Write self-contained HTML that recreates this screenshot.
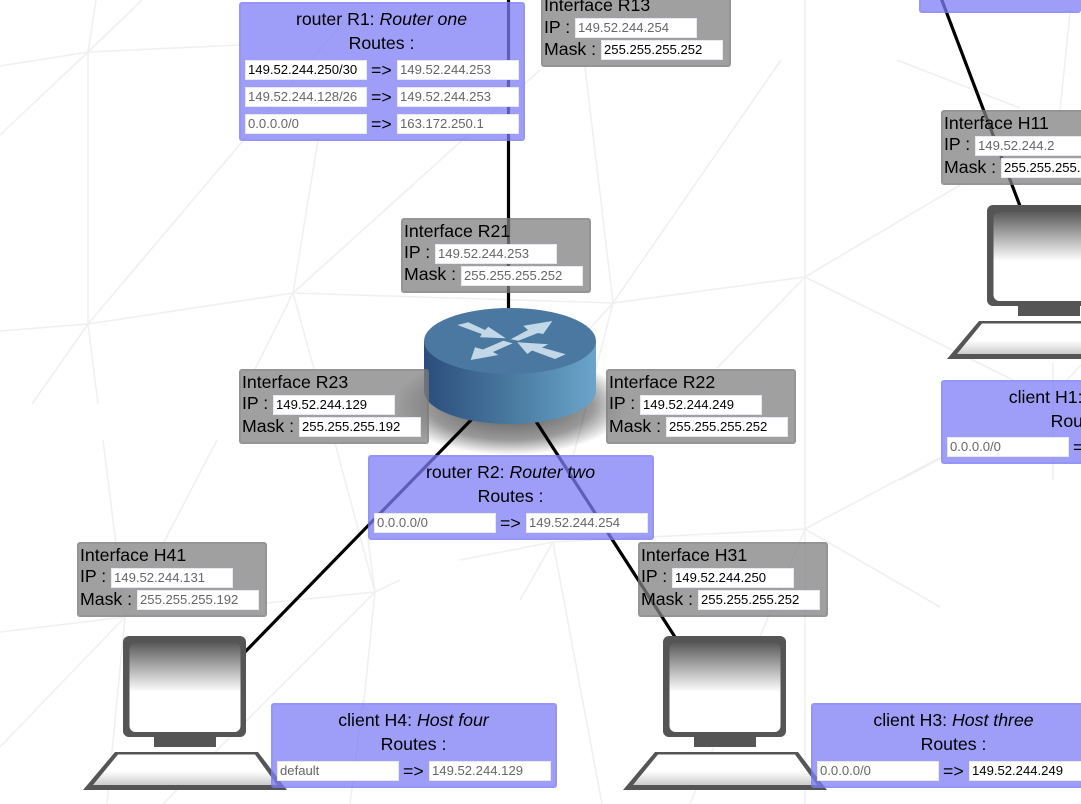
<!DOCTYPE html>
<html><head><meta charset="utf-8"><style>
html,body{margin:0;padding:0;width:1081px;height:804px;overflow:hidden;background:#fff}
body{font-family:"Liberation Sans",sans-serif;color:#000}
#w{position:relative;width:1081px;height:804px;overflow:hidden}
svg{position:absolute;left:0;top:0}
.p{position:absolute;box-sizing:border-box;border-radius:3px}
.g{width:190px;height:75px;background:rgba(128,128,128,.75);border:2.5px solid rgba(90,90,90,.15)}
.b{width:286px;background:rgba(125,125,245,.75);border:2.5px solid rgba(110,110,240,.2)}
.t{position:absolute;white-space:nowrap;font-size:17.7px;line-height:20px}
.c{position:absolute;left:0;width:281px;text-align:center;white-space:nowrap;font-size:17.7px;line-height:20px}
.i{position:absolute;box-sizing:border-box;width:122px;height:20px;background:#fff;border:1px solid #e8e8f0;font-size:13.1px;line-height:18px;padding-left:2px;color:#666;white-space:nowrap;overflow:hidden}
.k{color:#000}
</style></head><body><div id="w">
<svg width="1081" height="804" viewBox="0 0 1081 804">
<defs>
<linearGradient id="sc" x1="0" y1="0" x2="0" y2="1"><stop offset="0" stop-color="#5a5a5a"/><stop offset=".55" stop-color="#fff"/><stop offset="1" stop-color="#fff"/></linearGradient>
<linearGradient id="kb" x1="0" y1="0" x2="0" y2="1"><stop offset="0" stop-color="#fff"/><stop offset=".55" stop-color="#fff"/><stop offset="1" stop-color="#ccc"/></linearGradient>
<linearGradient id="cyl" x1="0" y1="0" x2="1" y2="0"><stop offset="0" stop-color="#2b4d7c"/><stop offset=".5" stop-color="#49799f"/><stop offset="1" stop-color="#6ba5cb"/></linearGradient>
<radialGradient id="sh" cx=".5" cy=".5" r=".5"><stop offset="0" stop-color="#000" stop-opacity=".7"/><stop offset=".7" stop-color="#000" stop-opacity=".4"/><stop offset="1" stop-color="#000" stop-opacity="0"/></radialGradient>
<g id="pc">
<rect x="123" y="636" width="123" height="101" rx="6" fill="#555"/>
<rect x="129.5" y="643" width="111" height="89" rx="6" fill="url(#sc)"/>
<rect x="154" y="737" width="62" height="10" fill="#555"/>
<polygon points="115,752 258,752 287,790 83,790" fill="#555"/>
<polygon points="118,754.5 255,754.5 277,785 93,785" fill="url(#kb)"/>
</g>
</defs>
<g stroke="#f0f0f0" stroke-width="1.6" fill="none">
<path d="M0 66L88 52L96 0M88 52L142 0M88 52L0 135M88 52V324M88 52L240 45"/>
<path d="M0 331L88 324L293 293M88 324L345 20M88 324L32 404M88 324L98 404"/>
<path d="M293 293L318 140M293 293L540 70M293 293L613 303M293 293L255 369M293 293L314 369"/>
<path d="M613 303L585 67M613 303L781 60M613 303L805 277M613 303L575 345M613 303L573 457"/>
<path d="M805 277V0M805 277V529M805 277L960 185M805 277L1013 380M805 277L717 368M897 60L1020 108M1070 13L1060 110"/>
<path d="M805 529L553 542M805 529L941 457M805 529L940 607M805 529V804M805 529L690 804"/>
<path d="M553 542L602 804M553 542L520 600M553 542L460 560"/>
<path d="M375 592L267 603M375 592L368 540M375 592L335 443M375 592L363 710M375 592L400 580M375 592L163 804"/>
<path d="M125 617L0 632M125 617L103 440M125 617L217 440M125 617L0 747M125 617L107 804"/>
<path d="M1053 363V480M900 480L941 458M1067 380L1081 365M363 700L350 804"/>
</g>
<g stroke="#000" stroke-width="3.2" fill="none">
<path d="M508.5 0V330"/>
<path d="M510 380L245 652"/>
<path d="M510 381L675 637"/>
<path d="M938 -10L1020 206"/>
</g>
<use href="#pc"/>
<use href="#pc" x="540"/>
<use href="#pc" x="864" y="-431"/>
<ellipse cx="510" cy="405" rx="118" ry="50" fill="url(#sh)"/>
<path d="M424 341V391A86 33 0 0 0 596 391V341Z" fill="url(#cyl)"/>
<ellipse cx="510" cy="341" rx="86" ry="33" fill="#4a78a0"/>
<g fill="#c3d8e6">
<polygon points="457.3,325 468.3,322.3 485,330 488.3,326.7 505.7,338.3 480,337.3 481.7,334"/>
<polygon points="552.3,321 523.3,325.7 528,330 510.7,339.3 518.3,340.7 538,333 543.3,334"/>
<polygon points="470.7,360 475,347.3 483,349.5 503.3,340.7 512.7,343.3 493,352 498.3,355"/>
<polygon points="517.3,342.3 548.3,344.3 542,347.5 565.7,354.3 555,359 532,350.5 527.3,354"/>
</g>
</svg>

<div class="p b" style="left:239px;top:2px;height:139px">
<div class="c" style="top:5px">router R1: <i>Router one</i></div>
<div class="c" style="top:29px">Routes :</div>
<div class="i k" style="left:4px;top:56px">149.52.244.250/30</div><div class="t" style="left:130px;top:56px">=&gt;</div><div class="i" style="left:156px;top:56px">149.52.244.253</div>
<div class="i" style="left:4px;top:83px">149.52.244.128/26</div><div class="t" style="left:130px;top:83px">=&gt;</div><div class="i" style="left:156px;top:83px">149.52.244.253</div>
<div class="i" style="left:4px;top:110px">0.0.0.0/0</div><div class="t" style="left:130px;top:110px">=&gt;</div><div class="i" style="left:156px;top:110px">163.172.250.1</div>
</div>

<div class="p g" style="left:541px;top:-8px">
<div class="t" style="left:1px;top:1px">Interface R13</div><div class="t" style="left:1px;top:23px">IP :</div><div class="i" style="left:32px;top:24px">149.52.244.254</div><div class="t" style="left:1px;top:45px">Mask :</div><div class="i k" style="left:58px;top:46px">255.255.255.252</div>
</div>

<div class="p b" style="left:919px;top:-60px;height:73px;width:162px;border-right:0"></div>

<div class="p g" style="left:401px;top:218px">
<div class="t" style="left:1px;top:1px">Interface R21</div><div class="t" style="left:1px;top:22px">IP :</div><div class="i" style="left:32px;top:24px">149.52.244.253</div><div class="t" style="left:1px;top:44px">Mask :</div><div class="i" style="left:58px;top:46px">255.255.255.252</div>
</div>

<div class="p g" style="left:239px;top:369px">
<div class="t" style="left:1px;top:1px">Interface R23</div><div class="t" style="left:1px;top:22px">IP :</div><div class="i k" style="left:32px;top:24px">149.52.244.129</div><div class="t" style="left:1px;top:45px">Mask :</div><div class="i k" style="left:58px;top:46px">255.255.255.192</div>
</div>

<div class="p g" style="left:606px;top:369px">
<div class="t" style="left:1px;top:1px">Interface R22</div><div class="t" style="left:1px;top:22px">IP :</div><div class="i k" style="left:32px;top:24px">149.52.244.249</div><div class="t" style="left:1px;top:45px">Mask :</div><div class="i k" style="left:58px;top:46px">255.255.255.252</div>
</div>

<div class="p b" style="left:368px;top:455px;height:85px">
<div class="c" style="top:5px">router R2: <i>Router two</i></div>
<div class="c" style="top:29px">Routes :</div>
<div class="i" style="left:4px;top:56px">0.0.0.0/0</div><div class="t" style="left:130px;top:56px">=&gt;</div><div class="i" style="left:156px;top:56px">149.52.244.254</div>
</div>

<div class="p g" style="left:77px;top:542px">
<div class="t" style="left:1px;top:1px">Interface H41</div><div class="t" style="left:1px;top:22px">IP :</div><div class="i" style="left:32px;top:24px">149.52.244.131</div><div class="t" style="left:1px;top:45px">Mask :</div><div class="i" style="left:58px;top:46px">255.255.255.192</div>
</div>

<div class="p g" style="left:638px;top:542px">
<div class="t" style="left:1px;top:1px">Interface H31</div><div class="t" style="left:1px;top:22px">IP :</div><div class="i k" style="left:32px;top:24px">149.52.244.250</div><div class="t" style="left:1px;top:45px">Mask :</div><div class="i k" style="left:58px;top:46px">255.255.255.252</div>
</div>

<div class="p g" style="left:941px;top:110px">
<div class="t" style="left:1px;top:1px">Interface H11</div><div class="t" style="left:1px;top:22px">IP :</div><div class="i" style="left:32px;top:24px">149.52.244.2</div><div class="t" style="left:1px;top:45px">Mask :</div><div class="i k" style="left:58px;top:46px">255.255.255.252</div>
</div>

<div class="p b" style="left:941px;top:380px;height:84px">
<div class="c" style="top:5px">client H1: <i>Host one</i></div>
<div class="c" style="top:29px">Routes :</div>
<div class="i" style="left:4px;top:55px">0.0.0.0/0</div><div class="t" style="left:130px;top:55px">=&gt;</div><div class="i" style="left:156px;top:55px">149.52.244.254</div>
</div>

<div class="p b" style="left:271px;top:703px;height:85px">
<div class="c" style="top:5px">client H4: <i>Host four</i></div>
<div class="c" style="top:29px">Routes :</div>
<div class="i" style="left:4px;top:56px">default</div><div class="t" style="left:130px;top:56px">=&gt;</div><div class="i" style="left:156px;top:56px">149.52.244.129</div>
</div>

<div class="p b" style="left:811px;top:703px;height:85px">
<div class="c" style="top:5px">client H3: <i>Host three</i></div>
<div class="c" style="top:29px">Routes :</div>
<div class="i" style="left:4px;top:56px">0.0.0.0/0</div><div class="t" style="left:130px;top:56px">=&gt;</div><div class="i k" style="left:156px;top:56px">149.52.244.249</div>
</div>
</div></body></html>
